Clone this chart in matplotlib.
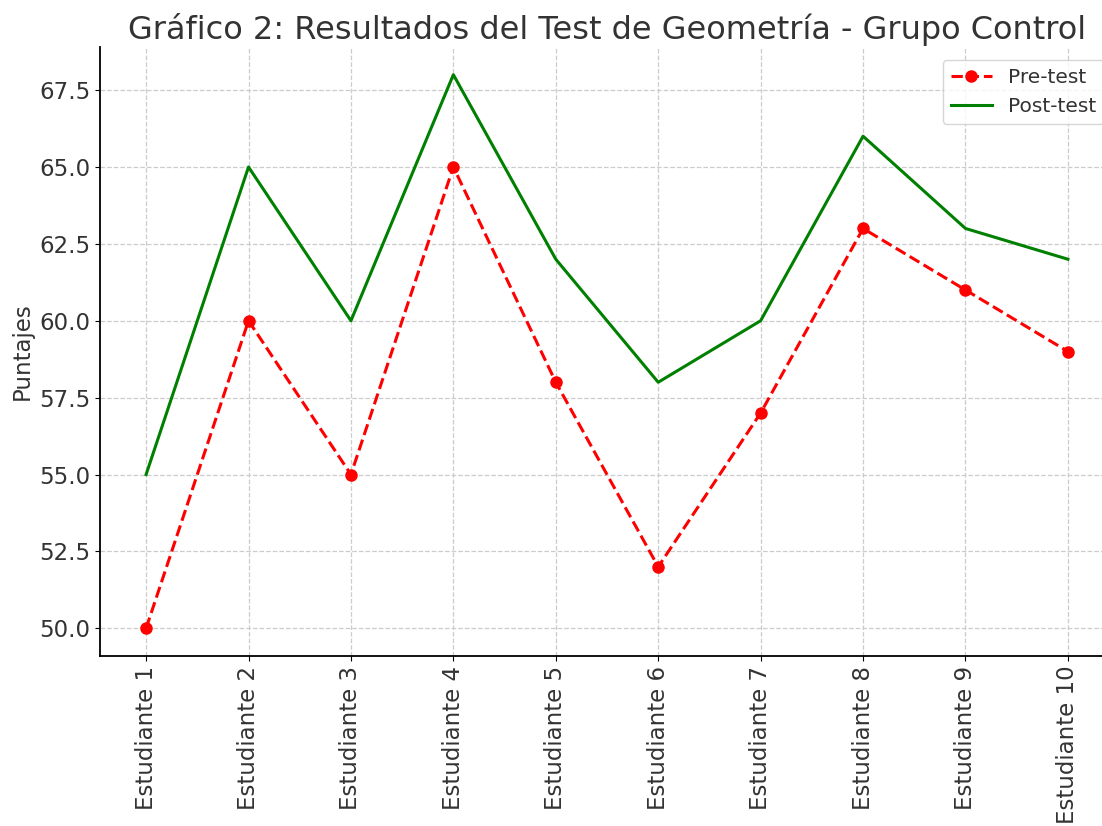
import matplotlib.pyplot as plt

# Datos
estudiantes = ["Estudiante 1", "Estudiante 2", "Estudiante 3", "Estudiante 4", "Estudiante 5",
               "Estudiante 6", "Estudiante 7", "Estudiante 8", "Estudiante 9", "Estudiante 10"]
pre_test = [50, 60, 55, 65, 58, 52, 57, 63, 61, 59]
post_test = [55, 65, 60, 68, 62, 58, 60, 66, 63, 62]

gris = "#333333"
plt.rcParams["text.color"] = gris
plt.rcParams["axes.labelcolor"] = gris
plt.rcParams["xtick.labelcolor"] = gris
plt.rcParams["ytick.labelcolor"] = gris

fig = plt.figure(figsize=(11.02, 8.26), dpi=100)
ax = fig.add_axes([100 / 1102, 170 / 826, 1014 / 1102, 609 / 826])

ax.plot(estudiantes, pre_test, color="red", linestyle="--", marker="o",
        markersize=8, linewidth=2.2, label="Pre-test")
ax.plot(estudiantes, post_test, color="green", linewidth=2.2, label="Post-test")

ax.set_title("Gráfico 2: Resultados del Test de Geometría - Grupo Control", fontsize=23, pad=6)
ax.set_ylabel("Puntajes", fontsize=16.5, labelpad=4)
ax.tick_params(axis="both", labelsize=16.5)
plt.setp(ax.get_xticklabels(), rotation=90)

ax.grid(True, linestyle="--", color="#cccccc", linewidth=0.9)
ax.spines["top"].set_visible(False)
ax.spines["right"].set_visible(False)
ax.spines["left"].set_linewidth(1.3)
ax.spines["bottom"].set_linewidth(1.3)

ax.legend(loc="upper right", bbox_to_anchor=(1.0, 0.996), fontsize=14.5)

fig.savefig("out.png", dpi=100)
